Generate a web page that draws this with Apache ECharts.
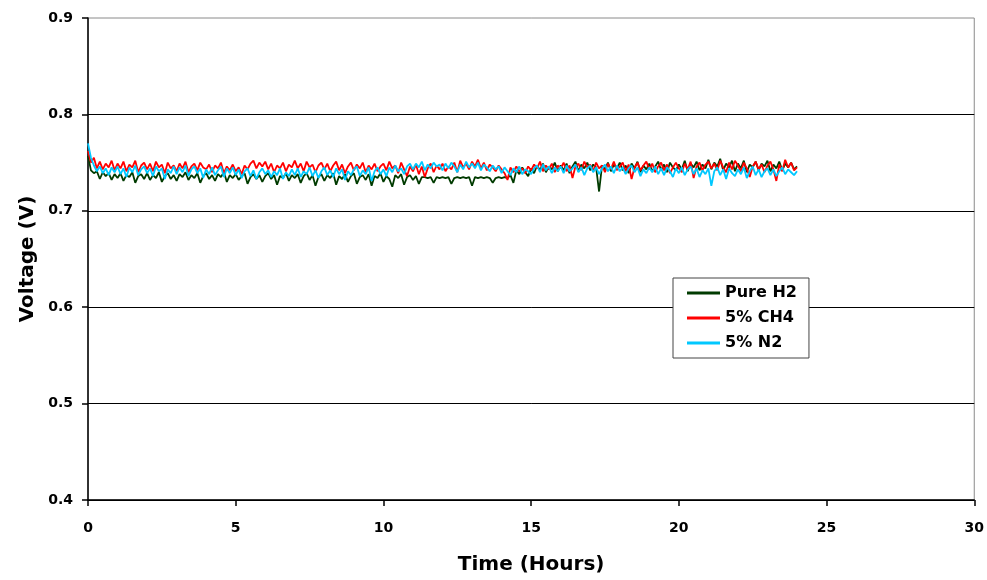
<!DOCTYPE html>
<html>
<head>
<meta charset="utf-8">
<script src="https://cdn.jsdelivr.net/npm/echarts@6/dist/echarts.min.js"></script>
<style>
html,body{margin:0;padding:0;background:#fff;}
#chart{width:987px;height:580px;}
</style>
</head>
<body>
<div id="chart"></div>
<script>
// ---- data (voltage readings every 0.1 h from 0 to 24 h) ----
const sampleStepHours = 0.1;
const seriesNames = ['Pure H2', '5% CH4', '5% N2'];
const xTicks = [0, 5, 10, 15, 20, 25, 30];
const yTicks = [0.4, 0.5, 0.6, 0.7, 0.8, 0.9];

const pureH2 = [
0.757,0.742,0.739,0.741,0.733,0.740,0.736,0.739,0.732,0.738,
0.734,0.739,0.731,0.737,0.735,0.740,0.729,0.736,0.738,0.733,
0.739,0.732,0.737,0.734,0.740,0.730,0.736,0.739,0.733,0.737,
0.731,0.738,0.735,0.740,0.732,0.737,0.734,0.739,0.729,0.736,
0.739,0.733,0.737,0.731,0.738,0.735,0.740,0.730,0.737,0.734,
0.738,0.732,0.736,0.739,0.728,0.735,0.738,0.733,0.737,0.730,
0.736,0.739,0.733,0.737,0.727,0.736,0.734,0.739,0.731,0.737,
0.734,0.738,0.729,0.736,0.739,0.732,0.737,0.726,0.735,0.738,
0.731,0.737,0.734,0.739,0.727,0.736,0.733,0.738,0.730,0.736,
0.739,0.728,0.735,0.737,0.732,0.738,0.726,0.736,0.734,0.739,
0.730,0.736,0.733,0.725,0.737,0.734,0.738,0.727,0.735,0.737,
0.732,0.736,0.728,0.735,0.735,0.734,0.735,0.729,0.735,0.734,
0.735,0.734,0.735,0.728,0.734,0.735,0.734,0.735,0.734,0.735,
0.726,0.735,0.734,0.735,0.734,0.735,0.734,0.729,0.734,0.735,
0.734,0.735,0.734,0.737,0.729,0.742,0.738,0.745,0.740,0.736,
0.744,0.739,0.747,0.742,0.749,0.740,0.746,0.743,0.750,0.741,
0.747,0.742,0.749,0.739,0.746,0.751,0.741,0.748,0.744,0.750,
0.742,0.748,0.745,0.720,0.747,0.743,0.750,0.741,0.748,0.744,
0.750,0.742,0.747,0.739,0.749,0.744,0.751,0.740,0.747,0.743,
0.749,0.741,0.746,0.751,0.742,0.748,0.740,0.750,0.745,0.742,
0.748,0.743,0.752,0.741,0.749,0.745,0.751,0.742,0.748,0.744,
0.753,0.743,0.750,0.746,0.754,0.742,0.749,0.745,0.752,0.741,
0.749,0.744,0.752,0.740,0.748,0.745,0.751,0.742,0.749,0.746,
0.752,0.741,0.748,0.744,0.751,0.742,0.749,0.745,0.750,0.743,
0.746
];

const ch4 = [
0.762,0.750,0.755,0.744,0.751,0.743,0.749,0.745,0.752,0.742,
0.749,0.744,0.751,0.741,0.748,0.745,0.752,0.740,0.747,0.750,
0.743,0.749,0.741,0.751,0.745,0.748,0.739,0.750,0.744,0.747,
0.741,0.749,0.744,0.751,0.740,0.746,0.749,0.742,0.750,0.745,
0.743,0.748,0.740,0.747,0.744,0.750,0.739,0.746,0.742,0.748,
0.741,0.745,0.738,0.747,0.743,0.749,0.752,0.744,0.750,0.746,
0.751,0.743,0.749,0.740,0.747,0.744,0.750,0.741,0.748,0.745,
0.752,0.744,0.749,0.741,0.751,0.745,0.748,0.740,0.747,0.750,
0.743,0.749,0.741,0.747,0.751,0.742,0.748,0.739,0.746,0.750,
0.742,0.748,0.744,0.750,0.740,0.747,0.743,0.749,0.741,0.746,
0.749,0.742,0.751,0.744,0.747,0.739,0.750,0.743,0.736,0.746,
0.741,0.748,0.738,0.746,0.735,0.744,0.749,0.740,0.747,0.743,
0.749,0.741,0.746,0.743,0.750,0.740,0.752,0.745,0.749,0.743,
0.751,0.746,0.753,0.744,0.750,0.742,0.748,0.745,0.741,0.747,
0.743,0.739,0.732,0.745,0.740,0.746,0.741,0.744,0.739,0.746,
0.742,0.748,0.744,0.751,0.741,0.747,0.743,0.749,0.740,0.747,
0.744,0.750,0.741,0.747,0.734,0.746,0.749,0.742,0.751,0.745,
0.748,0.741,0.750,0.744,0.747,0.740,0.749,0.743,0.751,0.742,
0.746,0.750,0.741,0.748,0.733,0.745,0.750,0.742,0.747,0.751,
0.743,0.749,0.740,0.746,0.750,0.742,0.748,0.739,0.745,0.750,
0.744,0.740,0.749,0.743,0.751,0.734,0.746,0.750,0.742,0.748,
0.751,0.744,0.749,0.742,0.752,0.745,0.740,0.750,0.743,0.752,
0.747,0.741,0.750,0.744,0.735,0.746,0.751,0.743,0.748,0.740,
0.747,0.751,0.743,0.731,0.748,0.741,0.753,0.745,0.750,0.742,
0.745
];

const n2 = [
0.770,0.755,0.747,0.741,0.746,0.739,0.744,0.737,0.745,0.740,
0.746,0.738,0.744,0.735,0.745,0.740,0.747,0.737,0.743,0.746,
0.739,0.744,0.736,0.746,0.741,0.744,0.733,0.743,0.739,0.746,
0.738,0.745,0.740,0.747,0.736,0.743,0.746,0.739,0.744,0.734,
0.743,0.738,0.745,0.737,0.742,0.746,0.735,0.744,0.739,0.745,
0.737,0.743,0.734,0.741,0.744,0.736,0.742,0.733,0.740,0.744,
0.738,0.742,0.735,0.741,0.737,0.744,0.733,0.740,0.736,0.743,
0.737,0.744,0.735,0.741,0.738,0.745,0.736,0.742,0.734,0.741,
0.745,0.737,0.742,0.735,0.744,0.738,0.743,0.732,0.741,0.737,
0.743,0.746,0.736,0.742,0.738,0.745,0.731,0.741,0.745,0.738,
0.743,0.736,0.745,0.740,0.747,0.741,0.744,0.738,0.746,0.749,
0.743,0.749,0.745,0.751,0.742,0.748,0.744,0.750,0.746,0.748,
0.742,0.749,0.744,0.750,0.746,0.740,0.748,0.743,0.751,0.745,
0.749,0.744,0.750,0.742,0.748,0.745,0.741,0.747,0.743,0.746,
0.739,0.745,0.741,0.737,0.744,0.740,0.746,0.738,0.743,0.741,
0.738,0.744,0.747,0.740,0.748,0.742,0.746,0.739,0.745,0.741,
0.746,0.739,0.747,0.741,0.744,0.748,0.740,0.745,0.737,0.744,
0.747,0.740,0.745,0.738,0.744,0.748,0.741,0.746,0.739,0.747,
0.741,0.745,0.738,0.744,0.747,0.740,0.745,0.736,0.743,0.739,
0.745,0.740,0.746,0.738,0.744,0.737,0.745,0.741,0.735,0.744,
0.739,0.745,0.737,0.743,0.746,0.738,0.744,0.735,0.742,0.738,
0.744,0.726,0.741,0.745,0.737,0.743,0.733,0.744,0.739,0.736,
0.743,0.738,0.745,0.734,0.741,0.746,0.737,0.743,0.735,0.741,
0.744,0.737,0.743,0.736,0.741,0.745,0.738,0.743,0.740,0.737,
0.741
];

const seriesValues = [pureH2, ch4, n2];
const seriesColors = ['#003b00', '#ff0000', '#00c8ff'];

function toPairs(vals) {
  return vals.map((v, i) => [Math.round(i * sampleStepHours * 10) / 10, v]);
}

const chart = echarts.init(document.getElementById('chart'), null, {renderer: 'canvas'});
const fontFam = '"DejaVu Sans", "Liberation Sans", Arial, sans-serif';

chart.setOption({
  animation: false,
  backgroundColor: '#ffffff',
  grid: {
    left: 88, right: 12, top: 18, bottom: 77,
    show: true, borderColor: '#8a8a8a', borderWidth: 1, backgroundColor: 'transparent'
  },
  legend: {
    orient: 'vertical',
    left: 673, top: 278,
    padding: [7, 12, 7, 14],
    itemGap: 9,
    itemWidth: 33, itemHeight: 3,
    icon: 'rect',
    backgroundColor: '#ffffff',
    borderColor: '#444444', borderWidth: 1,
    textStyle: {fontFamily: fontFam, fontWeight: 'bold', fontSize: 16, color: '#000', lineHeight: 16},
    data: seriesNames
  },
  xAxis: {
    type: 'value',
    min: xTicks[0], max: xTicks[xTicks.length - 1], interval: 5,
    name: 'Time (Hours)',
    nameLocation: 'middle', nameGap: 55,
    nameTextStyle: {fontFamily: fontFam, fontWeight: 'bold', fontSize: 20, color: '#000'},
    axisLine: {show: true, onZero: false, lineStyle: {color: '#000', width: 1.5}},
    axisTick: {show: true, inside: false, length: 6, lineStyle: {color: '#000', width: 1.5}},
    axisLabel: {margin: 21, fontFamily: fontFam, fontWeight: 'bold', fontSize: 14, color: '#000'},
    splitLine: {show: false}
  },
  yAxis: {
    type: 'value',
    min: yTicks[0], max: yTicks[yTicks.length - 1], interval: 0.1,
    name: 'Voltage (V)',
    nameLocation: 'middle', nameGap: 50,
    nameTextStyle: {fontFamily: fontFam, fontWeight: 'bold', fontSize: 20, color: '#000'},
    axisLine: {show: true, onZero: false, lineStyle: {color: '#000', width: 1.5}},
    axisTick: {show: true, inside: false, length: 6, lineStyle: {color: '#000', width: 1.5}},
    axisLabel: {margin: 15, fontFamily: fontFam, fontWeight: 'bold', fontSize: 14, color: '#000',
      formatter: v => v.toFixed(1)},
    splitLine: {show: true, showMaxLine: false, lineStyle: {color: '#000', width: 1}}
  },
  series: seriesValues.map((vals, k) => ({
    name: seriesNames[k],
    type: 'line',
    data: toPairs(vals),
    showSymbol: false,
    symbol: 'none',
    lineStyle: {color: seriesColors[k], width: 1.8},
    itemStyle: {color: seriesColors[k]},
    z: 2 + k
  }))
});
</script>
</body>
</html>
